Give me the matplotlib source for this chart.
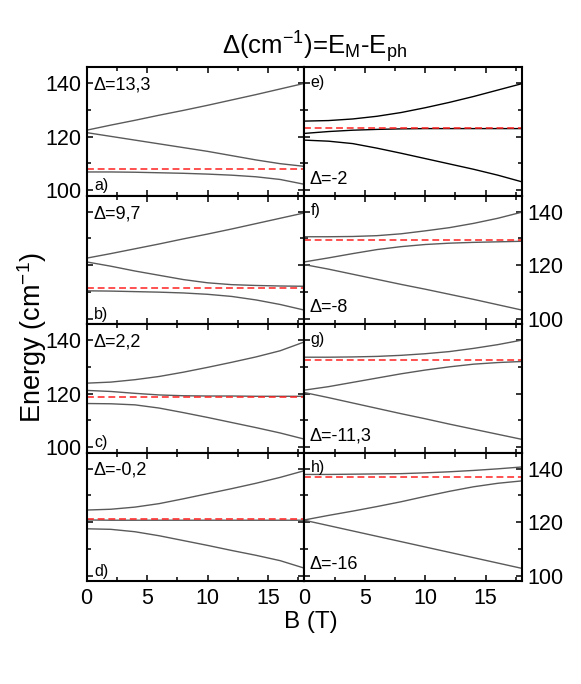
import numpy as np
import matplotlib.pyplot as plt
from matplotlib.ticker import MultipleLocator

plt.rcParams['font.family'] = ['Liberation Sans', 'DejaVu Sans']
plt.rcParams['mathtext.fontset'] = 'custom'
plt.rcParams['mathtext.rm'] = 'Liberation Sans'
plt.rcParams['mathtext.it'] = 'Liberation Sans:italic'

# magnetic field grid (T)
B = [0, 2, 4, 6, 8, 10, 12, 14, 16, 18]

# panel labels and detuning text
letters = ['a)', 'b)', 'c)', 'd)', 'e)', 'f)', 'g)', 'h)']
deltas = ['Δ=13,3', 'Δ=9,7', 'Δ=2,2', 'Δ=-0,2', 'Δ=-2', 'Δ=-8', 'Δ=-11,3', 'Δ=-16']

# phonon energy (red dashed), cm-1
phonon = [108.0, 111.6, 118.9, 121.0, 123.3, 129.3, 132.7, 137.0]

# branch energies (cm-1): upper, middle, lower
upper = [
    [122.4, 124.3, 126.1, 128.0, 129.8, 131.7, 133.7, 135.7, 137.8, 139.9],
    [122.6, 124.3, 126.1, 127.9, 129.8, 131.6, 133.5, 135.5, 137.5, 139.5],
    [123.9, 124.3, 125.2, 126.4, 128.0, 129.8, 131.7, 133.7, 136.0, 139.3],
    [124.5, 124.8, 125.6, 126.9, 128.7, 130.6, 132.5, 134.5, 136.7, 139.2],
    [125.8, 126.0, 126.6, 127.6, 129.0, 130.8, 132.8, 135.0, 137.4, 139.8],
    [130.6, 130.6, 130.7, 131.0, 131.7, 132.8, 134.0, 135.6, 137.5, 139.8],
    [133.6, 133.6, 133.7, 133.9, 134.3, 134.9, 135.7, 136.9, 138.3, 140.0],
    [137.8, 137.8, 137.9, 138.0, 138.1, 138.4, 138.8, 139.3, 139.9, 140.6],
]
middle = [
    [121.5, 120.1, 118.7, 117.3, 115.9, 114.5, 112.9, 111.3, 109.9, 108.9],
    [121.2, 119.6, 117.8, 116.2, 114.6, 113.4, 112.7, 112.4, 112.2, 112.1],
    [121.2, 120.8, 120.1, 119.5, 119.2, 119.1, 119.1, 119.0, 119.0, 119.0],
    [120.8, 120.7, 120.7, 120.7, 120.7, 120.7, 120.7, 120.7, 120.7, 120.7],
    [121.2, 121.9, 122.4, 122.7, 122.9, 123.0, 123.0, 123.0, 123.0, 123.0],
    [121.2, 122.7, 124.3, 125.8, 126.9, 127.7, 128.2, 128.5, 128.7, 128.9],
    [121.3, 122.6, 124.2, 125.8, 127.4, 128.8, 130.0, 131.0, 131.6, 132.0],
    [120.8, 122.5, 124.1, 125.8, 127.6, 129.6, 131.5, 133.2, 134.5, 135.4],
]
lower = [
    [106.8, 106.8, 106.7, 106.5, 106.3, 106.0, 105.6, 105.0, 104.0, 102.2],
    [110.4, 110.3, 110.1, 109.9, 109.6, 109.1, 108.3, 107.0, 105.3, 103.2],
    [116.3, 116.2, 115.8, 114.6, 112.9, 111.1, 109.2, 107.3, 105.3, 103.0],
    [117.5, 117.3, 116.4, 114.9, 113.1, 111.3, 109.4, 107.6, 105.6, 102.8],
    [118.7, 118.3, 117.4, 115.7, 113.8, 111.8, 109.8, 107.8, 105.6, 103.1],
    [120.2, 118.5, 116.6, 114.7, 112.8, 111.0, 109.1, 107.2, 105.2, 103.2],
    [120.4, 118.5, 116.5, 114.5, 112.5, 110.6, 108.6, 106.7, 104.8, 102.9],
    [120.7, 118.7, 116.7, 114.7, 112.7, 110.7, 108.7, 106.7, 104.7, 102.7],
]

fig, axes = plt.subplots(4, 2, figsize=(5.81, 6.84), dpi=100,
                         gridspec_kw=dict(hspace=0, wspace=0))
fig.subplots_adjust(left=0.149, right=0.8985, top=0.902, bottom=0.1506)

for k in range(8):
    col = k // 4
    row = k % 4
    ax = axes[row, col]
    lc = 'black' if k == 4 else '#5a5a5a'
    for curve in (upper[k], middle[k], lower[k]):
        ax.plot(B, curve, color=lc, lw=1.0)
    ax.axhline(phonon[k], color='#ff2020', lw=1.1, dashes=(4.5, 2.5))

    ax.set_xlim(0, 18)
    ax.set_ylim(98, 146)
    ax.xaxis.set_major_locator(MultipleLocator(5))
    ax.xaxis.set_minor_locator(MultipleLocator(2.5))
    ax.yaxis.set_major_locator(MultipleLocator(20))
    ax.yaxis.set_minor_locator(MultipleLocator(10))
    ax.tick_params(which='both', direction='in', top=True, right=True,
                   width=1.1, labelsize=15.5)
    ax.tick_params(which='major', length=4.5)
    ax.tick_params(which='minor', length=2.8)
    ax.tick_params(axis='x', pad=5)
    for s in ax.spines.values():
        s.set_linewidth(1.5)

    ax.tick_params(labelbottom=(row == 3))
    if col == 0:
        ax.tick_params(labelleft=(row % 2 == 0), labelright=False)
    else:
        ax.tick_params(labelleft=False, labelright=(row % 2 == 1))

    if col == 0:
        ax.text(0.03, 0.86, deltas[k], transform=ax.transAxes, fontsize=13,
                ha='left', va='center')
        ax.text(0.035, 0.075, letters[k], transform=ax.transAxes, fontsize=11.5,
                ha='left', va='center')
    else:
        ax.text(0.025, 0.125, deltas[k], transform=ax.transAxes, fontsize=13,
                ha='left', va='center')
        ax.text(0.03, 0.88, letters[k], transform=ax.transAxes, fontsize=11.5,
                ha='left', va='center')

fig.text(0.542, 0.931, 'Δ(cm$^{-1}$)=E$_\\mathrm{M}$-E$_\\mathrm{ph}$',
         fontsize=18.5, ha='center', va='center')
fig.text(0.055, 0.507, 'Energy (cm$^{-1}$)', fontsize=19.5, rotation=90,
         ha='center', va='center')
fig.text(0.535, 0.091, 'B (T)', fontsize=17.5, ha='center', va='center')

fig.savefig('out.png', dpi=100)
